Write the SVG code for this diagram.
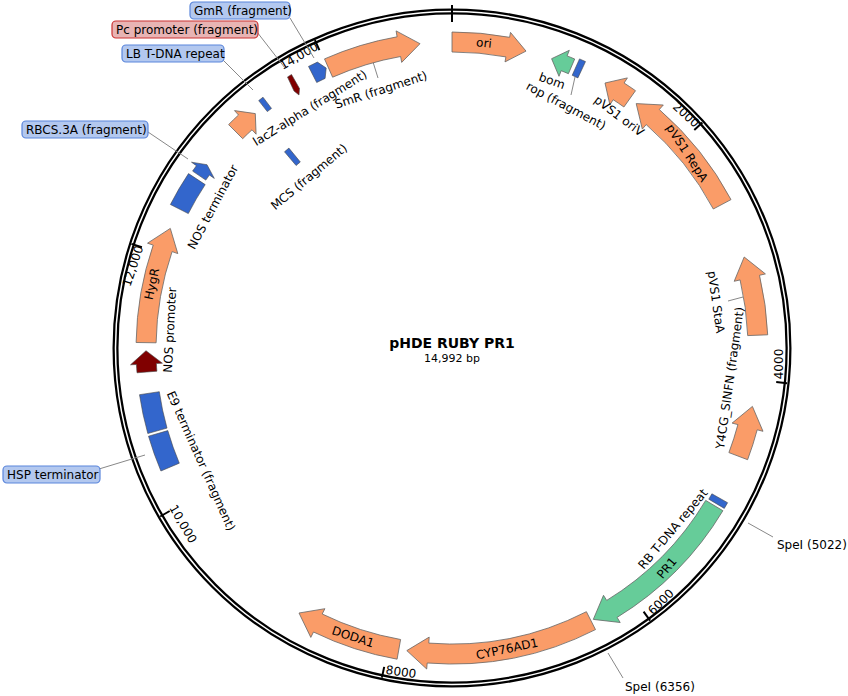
<svg xmlns="http://www.w3.org/2000/svg" width="848" height="696" viewBox="0 0 848 696">
<style>
text{font-family:"DejaVu Sans","Verdana",sans-serif;font-size:12px;fill:#000}
.c{text-anchor:middle;dominant-baseline:central}
.or{fill:#FA9C68;stroke:#666;stroke-width:0.8}
.bl{fill:#3366CC;stroke:#444;stroke-width:0.6}
.gr{fill:#66CC99;stroke:#666;stroke-width:0.8}
.mr{fill:#800000;stroke:#444;stroke-width:0.6}
.ld{stroke:#888;stroke-width:1;fill:none}
.tk{stroke:#000;stroke-width:2}
.cb{fill:#B3C8EF;stroke:#5B86DB;stroke-width:1.2}
.cr{fill:#E8B4B4;stroke:#C33;stroke-width:1.2}
</style>
<rect width="848" height="696" fill="#fff"/>
<g id="backbone">
<circle cx="452" cy="348" r="336.5" fill="none" stroke="#000" stroke-width="6"/>
<circle cx="452" cy="348" r="336.5" fill="none" stroke="#fff" stroke-width="1.5"/>
<line class="tk" x1="452" y1="5" x2="452" y2="22"/>
<line class="tk" x1="702.4" y1="122.5" x2="694.3" y2="129.9"/>
<line class="tk" x1="787.1" y1="383.2" x2="776.2" y2="382.1"/>
<line class="tk" x1="650.1" y1="620.6" x2="643.6" y2="611.7"/>
<line class="tk" x1="381.9" y1="677.6" x2="384.2" y2="666.9"/>
<line class="tk" x1="160.2" y1="516.5" x2="169.7" y2="511"/>
<line class="tk" x1="131.5" y1="243.9" x2="141.9" y2="247.3"/>
<line class="tk" x1="314.9" y1="40.2" x2="319.4" y2="50.2"/>
<text class="c" transform="translate(686,115) rotate(42)">2000</text>
<text class="c" transform="translate(779,364) rotate(-90)">4000</text>
<text class="c" transform="translate(661,602) rotate(-45)">6000</text>
<text class="c" transform="translate(401,672) rotate(8)">8000</text>
<text class="c" transform="translate(183,524) rotate(60)">10,000</text>
<text class="c" transform="translate(133,266) rotate(-72)">12,000</text>
<text class="c" transform="translate(299,56) rotate(-30)">14,000</text>
</g>
<g id="connectors">
<line class="ld" x1="748" y1="523" x2="773" y2="537"/>
<line class="ld" x1="608" y1="653" x2="623" y2="678"/>
<line class="ld" x1="99" y1="469" x2="145" y2="455"/>
<line class="ld" x1="148" y1="132" x2="188" y2="159"/>
<line class="ld" x1="223" y1="60" x2="253" y2="90"/>
<line class="ld" x1="257" y1="32" x2="285" y2="68"/>
<line class="ld" x1="290" y1="18" x2="314" y2="58"/>
<line class="ld" x1="373" y1="62" x2="378" y2="78"/>
<line class="ld" x1="575" y1="77" x2="571" y2="95"/>
<line class="ld" x1="728" y1="301" x2="743" y2="297"/>
</g>
<g id="ori"><path class="or" d="M452,32 A316,316 0 0 1 509.6,37.3 L510.5,32.4 L526,51.1 L505,61.9 L505.9,56.9 A296,296 0 0 0 452,52 Z"/><text class="c" transform="translate(484,43) rotate(6)">ori</text></g>
<g id="bom"><path class="gr" d="M574.7,59 A314,314 0 0 0 567.1,55.9 L569.3,50.3 L551.6,58.7 L559,76.3 L561.2,70.7 A298,298 0 0 1 568.4,73.7 Z"/><text class="c" transform="translate(552,81) rotate(20)">bom</text></g>
<g id="rop"><path class="bl" d="M579.5,58.9 L585.5,61.6 L577.9,77.9 L572.2,75.3 Z"/><text class="c" transform="translate(566,106) rotate(28)">rop (fragment)</text></g>
<g id="oriV"><path class="or" d="M635.5,90.7 A316,316 0 0 0 624.1,83 L627.4,77.9 L605,83 L609.9,104.8 L613.2,99.7 A296,296 0 0 1 623.9,107 Z"/><text class="c" transform="translate(619,116) rotate(37)">pVS1 oriV</text></g>
<g id="RepA"><path class="or" d="M731,199.6 A316,316 0 0 0 659.3,109.5 L663.3,105 L636.2,103.6 L642.3,129.1 L646.2,124.6 A296,296 0 0 1 713.3,209 Z"/><text class="c" transform="translate(687,153) rotate(57)">pVS1 RepA</text></g>
<g id="StaA"><path class="or" d="M767.7,334.8 A316,316 0 0 0 759.5,275.3 L765.4,273.9 L744.2,257 L734.2,281.3 L740.1,279.9 A296,296 0 0 1 747.7,335.6 Z"/><text class="c" transform="translate(716,302) rotate(82)">pVS1 StaA</text></g>
<g id="Y4CG"><path class="or" d="M747.6,459.7 A316,316 0 0 0 757.2,429.8 L763,431.3 L752.4,406.4 L732.1,423.1 L737.9,424.6 A296,296 0 0 1 728.9,452.6 Z"/><text class="c" transform="translate(730,378) rotate(-82)">Y4CG_SINFN (fragment)</text></g>
<g id="RB"><path class="bl" d="M727.6,502.7 L724.3,508.4 L708.8,499.2 L711.9,493.8 Z"/><text class="c" transform="translate(673,529) rotate(-50)">RB T-DNA repeat</text></g>
<g id="PR1"><path class="gr" d="M722.9,510.7 A316,316 0 0 1 617.1,617.4 L620.2,622.5 L593.3,619.4 L603.5,595.3 L606.7,600.4 A296,296 0 0 0 705.7,500.4 Z"/><text class="c" transform="translate(667,568) rotate(-50)">PR1</text></g>
<g id="CYP76AD1"><path class="or" d="M595.5,629.6 A316,316 0 0 1 427.2,663 L426.7,669 L406.8,650.6 L429.2,637.1 L428.8,643.1 A296,296 0 0 0 586.4,611.7 Z"/><text class="c" transform="translate(507,649) rotate(-12)">CYP76AD1</text></g>
<g id="DODA1"><path class="or" d="M397.1,659.2 A316,316 0 0 1 313.5,632 L310.8,637.4 L299,613 L324.9,608.7 L322.2,614 A296,296 0 0 0 400.6,639.5 Z"/><text class="c" transform="translate(353,637) rotate(18)">DODA1</text></g>
<g id="HSP"><path class="bl" d="M160.9,471 A316,316 0 0 1 148.5,436.2 L167.8,430.6 A296,296 0 0 0 179.3,463.2 Z"/><rect class="cb" x="3" y="466" width="97" height="17" rx="4"/><text x="7" y="479">HSP terminator</text></g>
<g id="E9"><path class="bl" d="M147.8,433.5 A316,316 0 0 1 139.5,394.7 L159.3,391.7 A296,296 0 0 0 167,428.1 Z"/><text class="c" transform="translate(201,461) rotate(66)">E9 terminator (fragment)</text></g>
<g id="NOSpro"><path class="mr" d="M137,372.8 A316,316 0 0 1 136.4,364.5 L130.5,364.8 L146,350.7 L162.4,363.2 L156.4,363.5 A296,296 0 0 0 156.9,371.2 Z"/><text class="c" transform="translate(170,330) rotate(-87)">NOS promoter</text></g>
<g id="HygR"><path class="or" d="M136.1,342.5 A316,316 0 0 1 153.2,245.1 L147.5,243.2 L170.3,228.4 L177.8,253.6 L172.1,251.6 A296,296 0 0 0 156.1,342.8 Z"/><text class="c" transform="translate(152,284) rotate(-78)">HygR</text></g>
<g id="NOSterm"><path class="bl" d="M170.4,204.5 A316,316 0 0 1 188.5,173.6 L205.2,184.6 A296,296 0 0 0 188.3,213.6 Z"/><text class="c" transform="translate(213,207) rotate(-62)">NOS terminator</text></g>
<g id="RBCS"><path class="bl" d="M192.6,171.1 L196.4,165.7 L191.5,162.2 L207,164.7 L214.3,178.4 L209.4,175 L205.8,180.1 Z"/><rect class="cb" x="22" y="121" width="126" height="17" rx="4"/><text x="26" y="134">RBCS.3A (fragment)</text></g>
<g id="lacZ"><path class="or" d="M228.6,124.6 A316,316 0 0 1 238.5,115 L234.5,110.6 L255.3,113.6 L256.1,134.2 L252,129.8 A296,296 0 0 0 242.7,138.7 Z"/><text class="c" transform="translate(310,108) rotate(-32)">lacZ-alpha (fragment)</text></g>
<g id="LB"><path class="bl" d="M258.7,100.6 L263,97.2 L271.5,108.4 L267.3,111.6 Z"/><rect class="cb" x="122" y="45" width="102" height="17" rx="4"/><text x="126" y="58">LB T-DNA repeat</text></g>
<g id="Pc"><path class="mr" d="M287.5,77 L291.5,74.5 L299.5,88.5 L299,95 L294,91 Z"/><rect class="cr" x="112" y="21" width="146" height="17" rx="4"/><text x="116" y="34">Pc promoter (fragment)</text></g>
<g id="GmR"><path class="bl" d="M308.5,66.4 L317.4,62.1 L326.2,68 L325.1,78.4 L316.7,82.5 Z"/><rect class="cb" x="190" y="2" width="100" height="17" rx="4"/><text x="194" y="15">GmR (fragment)</text></g>
<g id="SmR"><path class="or" d="M324.5,58.9 A316,316 0 0 1 397.1,36.8 L396.1,30.9 L420,43.7 L401.7,62.4 L400.6,56.5 A296,296 0 0 0 332.6,77.2 Z"/><text class="c" transform="translate(381,90) rotate(-18)">SmR (fragment)</text></g>
<g id="MCS"><path class="bl" d="M284.5,151.8 L288.9,148.1 L300.3,162 L296.1,165.5 Z"/><text class="c" transform="translate(309,177) rotate(-40)">MCS (fragment)</text></g>
<g id="SpeI1"><text x="777" y="549">SpeI  (5022)</text></g>
<g id="SpeI2"><text x="625" y="691">SpeI  (6356)</text></g>
<g id="title"><text x="452" y="348" style="font-weight:bold;font-size:14px;text-anchor:middle">pHDE RUBY PR1</text><text x="452" y="362" style="font-size:11px;text-anchor:middle">14,992 bp</text></g>
</svg>
